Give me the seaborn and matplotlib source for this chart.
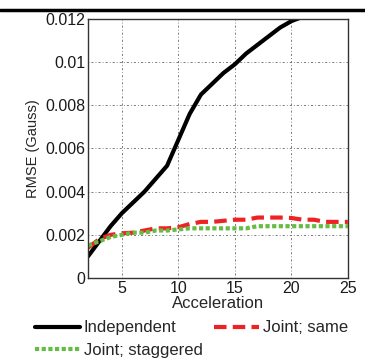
import matplotlib.pyplot as plt
import matplotlib.lines as mlines
import seaborn as sns
import pandas as pd

accel = list(range(2, 26))
independent = [0.0010, 0.0017, 0.0024, 0.0030, 0.0035, 0.0040, 0.0046, 0.0052,
               0.0064, 0.0076, 0.0085, 0.0090, 0.0095, 0.0099, 0.0104, 0.0108,
               0.0112, 0.0116, 0.0119, 0.0121, 0.0123, 0.0125, 0.0127, 0.0129]
joint_same = [0.0014, 0.0018, 0.0020, 0.00207, 0.0021, 0.0022, 0.0023, 0.0023,
              0.00235, 0.0025, 0.0026, 0.0026, 0.00265, 0.0027, 0.0027, 0.0028,
              0.0028, 0.0028, 0.00278, 0.0027, 0.0027, 0.0026, 0.0026, 0.0026]
joint_stag = [0.0015, 0.0017, 0.0019, 0.0020, 0.0021, 0.0021, 0.0022, 0.0022,
              0.00225, 0.0023, 0.0023, 0.0023, 0.0023, 0.0023, 0.0023, 0.0024,
              0.0024, 0.0024, 0.0024, 0.0024, 0.0024, 0.0024, 0.0024, 0.0024]

sns.set_style("white")
plt.rcParams['font.family'] = ['Liberation Sans', 'DejaVu Sans']

fig = plt.figure(figsize=(3.65, 3.58), dpi=100)
ax = fig.add_axes([0.241, 0.2235, 0.712, 0.7235])

df = pd.DataFrame({"Acceleration": accel, "Independent": independent,
                   "Joint; same": joint_same, "Joint; staggered": joint_stag})

sns.lineplot(data=df, x="Acceleration", y="Independent", ax=ax, color="black", lw=3)
sns.lineplot(data=df, x="Acceleration", y="Joint; same", ax=ax, color="#ee2222", lw=3,
             linestyle=(0, (3, 1.5)))
sns.lineplot(data=df, x="Acceleration", y="Joint; staggered", ax=ax, color="#66bb44", lw=3,
             linestyle=(0, (1, 0.6)))

ax.set_xlim(2, 25)
ax.set_ylim(0, 0.012)
ax.set_xticks([5, 10, 15, 20, 25])
ax.set_yticks([0, 0.002, 0.004, 0.006, 0.008, 0.01, 0.012])
ax.set_yticklabels(["0", "0.002", "0.004", "0.006", "0.008", "0.01", "0.012"])
ax.grid(True, color="#666666", lw=0.6, linestyle=(0, (1, 2.5, 2.5, 2.5)))
ax.tick_params(labelsize=11.5, colors="#1a1a1a", direction="in", length=3, pad=2)
for s in ax.spines.values():
    s.set_color("#333333")
    s.set_linewidth(1)
ax.set_xlabel("Acceleration", fontsize=12, labelpad=0)
ax.set_ylabel("RMSE (Gauss)", fontsize=10.5, labelpad=4)

h1 = mlines.Line2D([], [], color="black", lw=3)
h2 = mlines.Line2D([], [], color="#ee2222", lw=3, linestyle=(0, (3, 1.5)))
h3 = mlines.Line2D([], [], color="#66bb44", lw=3, linestyle=(0, (1, 0.6)))
fig.legend([h1, h3, h2], ["Independent", "Joint; staggered", "Joint; same"],
           ncol=2, loc="upper left", bbox_to_anchor=(0.097, 0.105), frameon=False,
           fontsize=12, handlelength=2.7, handletextpad=0.2, columnspacing=0.7,
           labelspacing=0.45, borderaxespad=0, borderpad=0)

fig.add_artist(mlines.Line2D([0, 1], [0.972, 0.972], color="black", lw=2.5,
                             transform=fig.transFigure))

fig.savefig("out.png", dpi=100)
